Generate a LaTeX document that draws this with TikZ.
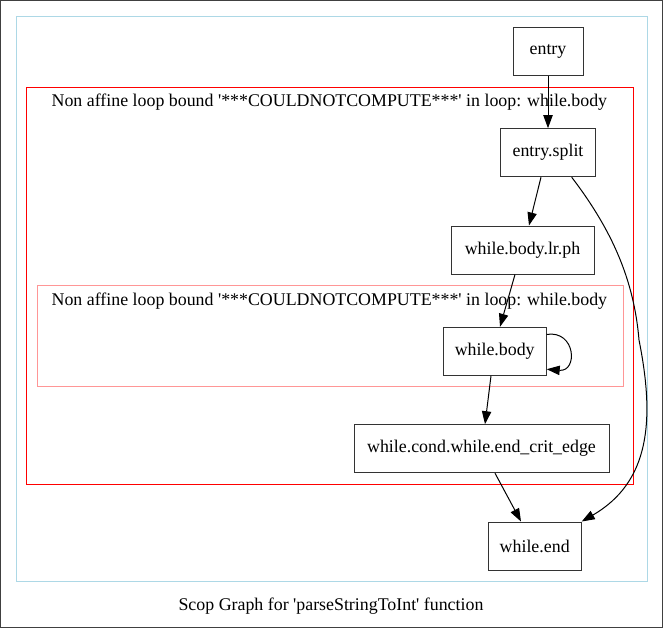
\documentclass[tikz,border=0pt]{standalone}
\usepackage{fontspec}
\newfontfamily\gvfont{Liberation Serif}
\usetikzlibrary{arrows.meta}
\definecolor{clblue}{RGB}{173,216,230}
\definecolor{clred}{RGB}{255,0,0}
\definecolor{clpink}{RGB}{255,150,150}
\tikzset{
  bb/.style={draw=black!80, line width=0.75pt, rectangle, inner sep=0pt, minimum height=36pt,
    font=\gvfont\fontsize{13.4}{16}\selectfont},
  edge/.style={draw=black, line width=0.75pt, -{Triangle[length=9.75pt,width=7pt]}},
  lbl/.style={inner sep=0pt, font=\gvfont\fontsize{13.4}{16}\selectfont},
}
\begin{document}
\begin{tikzpicture}[x=0.75pt,y=-0.75pt]
\useasboundingbox (0,0) rectangle (663,628);
\draw[line width=0.75pt, draw=black!75] (0.5,0.5) rectangle (662.5,627.5);
\draw[line width=0.75pt, draw=clblue] (16,16) rectangle (647,581);
\draw[line width=0.75pt, draw=clred] (26,87) rectangle (633,484);
\draw[line width=0.75pt, draw=clpink] (37,285.5) rectangle (623,386.5);
\node[lbl] (lred) at (329.4,101.7) {Non affine loop bound '***COULDNOTCOMPUTE***' in loop: while.body};
\node[lbl] (lpink) at (329.4,300.7) {Non affine loop bound '***COULDNOTCOMPUTE***' in loop: while.body};
\node[lbl] (title) at (331,606) {Scop Graph for 'parseStringToInt' function};

\node[bb, minimum width=52.5pt] (entry) at (548,51.5) {entry};
\node[bb, minimum width=71.25pt] (es) at (548,152.7) {entry.split};
\node[bb, minimum width=107.25pt] (lr) at (522.5,250) {while.body.lr.ph};
\node[bb, minimum width=77.25pt] (wb) at (494.7,351.3) {while.body};
\node[bb, minimum width=191.25pt] (ce) at (481.5,448.7) {while.cond.while.end\_crit\_edge};
\node[bb, minimum width=69.75pt] (we) at (534.7,546) {while.end};

\draw[edge] (entry) -- (es);
\draw[edge] (es.south -| 541,0) -- (lr.north -| 529,0);
\draw[edge] (lr.south -| 515,0) -- (wb.north -| 500,0);
\draw[edge] (wb.18) .. controls (576,330) and (578,372) .. (wb.-19);
\draw[edge] (wb.south -| 491,0) -- (ce.north -| 485,0);
\draw[edge] (ce.south -| 495,0) -- (we.north -| 521,0);
\draw[edge] (es.-46) .. controls (612,230) and (634,280) .. (639,340)
  .. controls (655,420) and (650,482) .. (we.north east);
\end{tikzpicture}
\end{document}
